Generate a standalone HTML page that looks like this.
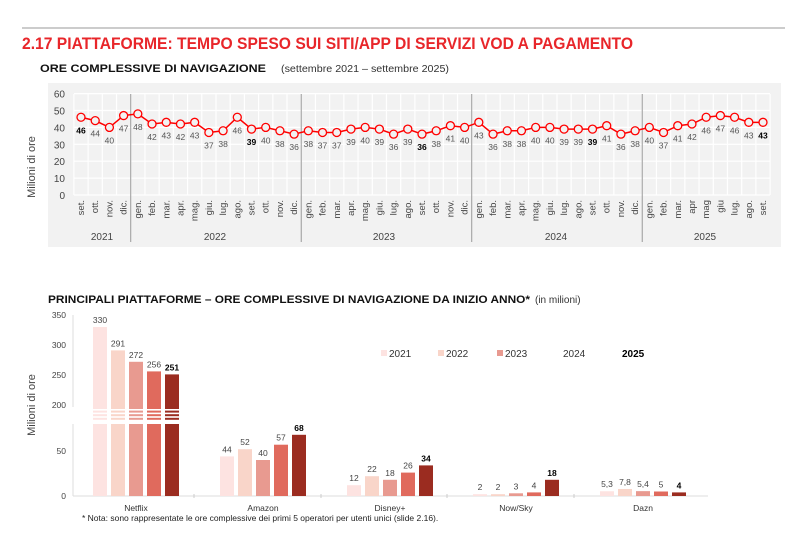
<!DOCTYPE html>
<html><head><meta charset="utf-8"><style>
body{margin:0;background:#fff;}
svg{display:block;font-family:"Liberation Sans",sans-serif;}
</style></head><body>
<svg id="s" width="800" height="540" viewBox="0 0 800 540" xmlns="http://www.w3.org/2000/svg">
<line x1="22" y1="28" x2="785" y2="28" stroke="#999" stroke-width="1"/>
<text x="22" y="49" font-size="17" font-weight="bold" fill="#e8262a" textLength="611" lengthAdjust="spacingAndGlyphs">2.17 PIATTAFORME: TEMPO SPESO SUI SITI/APP DI  SERVIZI VOD A PAGAMENTO</text>
<text x="40" y="72" font-size="11" font-weight="bold" fill="#111" textLength="226" lengthAdjust="spacingAndGlyphs">ORE COMPLESSIVE DI NAVIGAZIONE</text>
<text x="281" y="72" font-size="10" fill="#333" textLength="168" lengthAdjust="spacingAndGlyphs">(settembre 2021 – settembre 2025)</text>
<rect x="48" y="83" width="733" height="164" fill="#f2f2f2"/>
<text transform="translate(35,167) rotate(-90)" font-size="11" fill="#444" text-anchor="middle">Milioni di ore</text>
<g id="top"></g>
<text x="48" y="303" font-size="11" font-weight="bold" fill="#111" textLength="482" lengthAdjust="spacingAndGlyphs">PRINCIPALI PIATTAFORME – ORE COMPLESSIVE DI NAVIGAZIONE DA INIZIO ANNO*</text>
<text x="535" y="303" font-size="10" fill="#333">(in milioni)</text>
<text transform="translate(35,405) rotate(-90)" font-size="11" fill="#444" text-anchor="middle">Milioni di ore</text>
<g id="bot"></g>
<text x="82" y="521" font-size="8.5" fill="#222">* Nota: sono rappresentate le ore complessive dei primi 5 operatori per utenti unici (slide 2.16).</text>
</svg>
<script>
var NS="http://www.w3.org/2000/svg";
function el(p,t,a,txt){var e=document.createElementNS(NS,t);for(var k in a)e.setAttribute(k,a[k]);if(txt!=null)e.textContent=txt;p.appendChild(e);return e;}
var g=document.getElementById('top');
var d=[46,44,40,47,48,42,43,42,43,37,38,46,39,40,38,36,38,37,37,39,40,39,36,39,36,38,41,40,43,36,38,38,40,40,39,39,39,41,36,38,40,37,41,42,46,47,46,43,43];
var m=["set.","ott.","nov.","dic."],yr=["gen.","feb.","mar.","apr.","mag.","giu.","lug.","ago.","set.","ott.","nov.","dic."];
var labs=m.concat(yr,yr,yr,["gen.","feb.","mar.","apr","mag","giu","lug.","ago.","set."]);
var x0=81,dx=(763-81)/48;function Y(v){return 195-v*1.69;}
for(var i=0;i<=6;i++){var y=195-i*16.9;el(g,'line',{x1:74,x2:770,y1:y,y2:y,stroke:'#fff','stroke-width':1.2});el(g,'text',{x:65,y:y+4,'font-size':10,fill:'#444','text-anchor':'end'},i*10);}
for(var i=0;i<=49;i++){var x=x0-dx/2+i*dx;el(g,'line',{x1:x,x2:x,y1:94,y2:195,stroke:'#fff','stroke-width':1.2});}
[4,16,28,40].forEach(function(k){var x=x0-dx/2+k*dx;el(g,'line',{x1:x,x2:x,y1:94,y2:242,stroke:'#999','stroke-width':1});});
var pts=d.map(function(v,i){return (x0+i*dx)+','+Y(v);}).join(' ');
el(g,'polyline',{points:pts,fill:'none',stroke:'#f00','stroke-width':1.5});
var bold={0:1,12:1,24:1,36:1,48:1};
d.forEach(function(v,i){var x=x0+i*dx;el(g,'circle',{cx:x,cy:Y(v),r:4,fill:'#f2f2f2',stroke:'#f00','stroke-width':1.3});
el(g,'text',{x:x,y:Y(v)+16,'font-size':8.5,fill:bold[i]?'#000':'#555','font-weight':bold[i]?'bold':'normal','text-anchor':'middle'},v);
el(g,'text',{transform:'translate('+(x+3)+',200) rotate(-90)','font-size':9.5,fill:'#444','text-anchor':'end'},labs[i]);});
[["2021",102],["2022",215],["2023",384],["2024",556],["2025",705]].forEach(function(a){el(g,'text',{x:a[1],y:240,'font-size':10,fill:'#444','text-anchor':'middle'},a[0]);});
// bottom
var b=document.getElementById('bot');
var cols=["#fde3e1","#f9d5c9","#e89a90","#e06a5d","#9b2c20"];
function YB(v){return v>200?315+(350-v)*0.6:496-v*0.9;}
[[350,315],[300,345],[250,375],[200,405],[50,451],[0,496]].forEach(function(a){el(b,'text',{x:66,y:a[1]+3,'font-size':8.5,fill:'#444','text-anchor':'end'},a[0]);});
el(b,'line',{x1:73,x2:73,y1:315,y2:407,stroke:'#ddd'});el(b,'line',{x1:73,x2:73,y1:424,y2:496,stroke:'#ddd'});
el(b,'line',{x1:73,x2:708,y1:496,y2:496,stroke:'#ddd'});
var data=[["Netflix",[330,291,272,256,251],93],["Amazon",[44,52,40,57,68],220],["Disney+",[12,22,18,26,34],347],["Now/Sky",[2,2,3,4,18],473],["Dazn",[5.3,7.8,5.4,5,4],600]];
data.forEach(function(c,ci){
 c[1].forEach(function(v,j){var x=c[2]+j*18,y=YB(v);
  el(b,'rect',{x:x,y:y,width:14,height:496-y,fill:cols[j]});
  el(b,'text',{x:x+7,y:y-4,'font-size':8.5,fill:j==4?'#000':'#444','font-weight':j==4?'bold':'normal','text-anchor':'middle'},String(v).replace('.',','));
  if(ci==0){for(var s=0;s<4;s++)el(b,'rect',{x:x-1,y:409+s*3.6,width:16,height:1.6,fill:'#fff'});el(b,'rect',{x:x-1,y:421,width:16,height:3,fill:'#fff'});}
 });
 el(b,'text',{x:c[2]+43,y:511,'font-size':8.5,fill:'#333','text-anchor':'middle'},c[0]);
 if(ci>0)el(b,'line',{x1:c[2]-26,x2:c[2]-26,y1:494,y2:498,stroke:'#ccc'});
});
[[381,"2021",0],[438,"2022",1],[497,"2023",2]].forEach(function(a){el(b,'rect',{x:a[0],y:350,width:6,height:6,fill:cols[a[2]]});el(b,'text',{x:a[0]+8,y:357,'font-size':10,fill:'#333'},a[1]);});
el(b,'text',{x:563,y:357,'font-size':10,fill:'#333'},"2024");
el(b,'text',{x:622,y:357,'font-size':10,fill:'#000','font-weight':'bold'},"2025");
</script>
</body></html>
